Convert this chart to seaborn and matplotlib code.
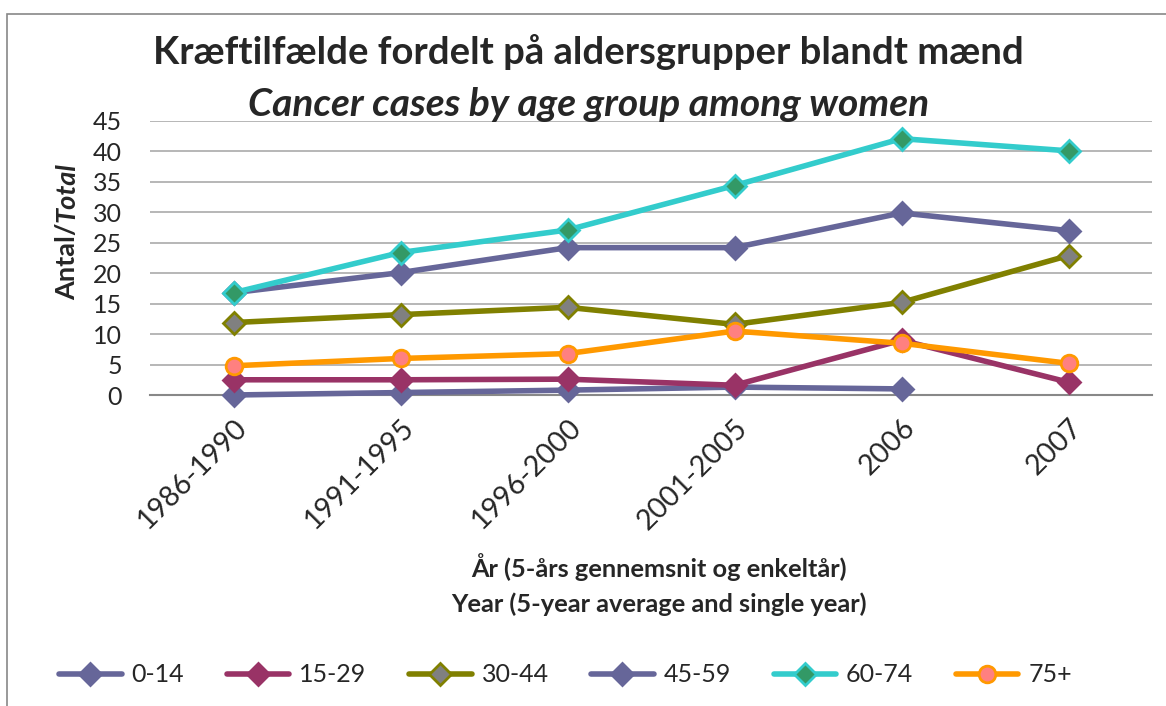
import numpy as np
import pandas as pd
import matplotlib.pyplot as plt
import seaborn as sns
from matplotlib.lines import Line2D
from matplotlib.patches import Rectangle

# Data
periods = ['1986-1990', '1991-1995', '1996-2000', '2001-2005', '2006', '2007']
age_groups = ['0-14', '15-29', '30-44', '45-59', '60-74', '75+']

cases_0_14 = [0.0, 0.4, 0.8, 1.3, 1.0, np.nan]
cases_15_29 = [2.5, 2.5, 2.6, 1.6, 9.0, 2.1]
cases_30_44 = [11.9, 13.2, 14.4, 11.6, 15.2, 22.9]
cases_45_59 = [16.8, 20.1, 24.2, 24.2, 29.9, 27.0]
cases_60_74 = [16.8, 23.4, 27.1, 34.4, 42.1, 40.1]
cases_75_plus = [4.8, 6.0, 6.8, 10.5, 8.5, 5.2]

series = [cases_0_14, cases_15_29, cases_30_44, cases_45_59, cases_60_74, cases_75_plus]

df = pd.DataFrame({
    'period': periods * len(age_groups),
    'x': list(range(len(periods))) * len(age_groups),
    'group': [g for g in age_groups for _ in periods],
    'value': [v for s in series for v in s],
})

# line colour, marker, marker face
styles = {
    '0-14': ('#666699', 'D', '#666699'),
    '15-29': ('#993366', 'D', '#993366'),
    '30-44': ('#808000', 'D', '#808080'),
    '45-59': ('#666699', 'D', '#666699'),
    '60-74': ('#33CCCC', 'D', '#339966'),
    '75+': ('#FF9900', 'o', '#FF8080'),
}

sns.set_style('white')
plt.rcParams['font.family'] = ['Lato', 'DejaVu Sans']

fig = plt.figure(figsize=(11.66, 7.06), dpi=100)
ax = fig.add_axes([150 / 1166, 1 - 395 / 706, 1002 / 1166, 274 / 706])

handles = []
for g in age_groups:
    color, marker, face = styles[g]
    sub = df[df['group'] == g].dropna()
    sns.lineplot(data=sub, x='x', y='value', ax=ax, color=color, linewidth=4,
                 marker=marker, markersize=11 if marker == 'D' else 12,
                 markerfacecolor=face, markeredgecolor=color, markeredgewidth=2,
                 clip_on=False, zorder=3)
    handles.append(Line2D([], [], color=color, linewidth=4, marker=marker,
                          markersize=11 if marker == 'D' else 12,
                          markerfacecolor=face, markeredgecolor=color,
                          markeredgewidth=2, label=g))

ax.set_xlim(-0.5, 5.5)
ax.set_ylim(0, 45)
ax.set_yticks(range(0, 50, 5))
ax.set_xticks(range(len(periods)))
ax.set_xticklabels(periods, rotation=45, ha='right', rotation_mode='anchor', fontsize=20.5)
ax.tick_params(axis='y', labelsize=18, length=0, pad=20)
ax.tick_params(axis='x', length=0, pad=14)
ax.yaxis.grid(True, color='#AAAAAA', linewidth=1.2)
ax.set_axisbelow(True)
for side in ['top', 'right', 'left']:
    ax.spines[side].set_visible(False)
ax.spines['bottom'].set_color('#888888')
ax.spines['bottom'].set_linewidth(1.5)
ax.set_xlabel('')
ax.set_ylabel('')

# y label: "Antal/" upright, "Total" italic, stacked along the rotated baseline
fig.canvas.draw()
part1 = fig.text(67 / 1166, 1 - 300 / 706, 'Antal/', rotation=90, fontsize=19.5,
                 fontweight='bold', ha='center', va='bottom')
bb = part1.get_window_extent(fig.canvas.get_renderer())
fig.text(67 / 1166, bb.y1 / fig.bbox.height, 'Total', rotation=90, fontsize=19.5,
         fontweight='bold', style='italic', ha='center', va='bottom')

# titles
fig.text(0.505, 1 - 52 / 706, 'Kræftilfælde fordelt på aldersgrupper blandt mænd',
         fontsize=27.5, fontweight='bold', ha='center', va='center')
fig.text(0.505, 1 - 104 / 706, 'Cancer cases by age group among women',
         fontsize=28, fontweight='bold', style='italic', ha='center', va='center')

# x labels
fig.text(0.565, 1 - 567 / 706, 'År (5-års gennemsnit og enkeltår)',
         fontsize=18.3, fontweight='bold', ha='center', va='center')
fig.text(0.565, 1 - 604 / 706, 'Year (5-year average and single year)',
         fontsize=18.3, fontweight='bold', ha='center', va='center')

fig.legend(handles=handles, loc='center', bbox_to_anchor=(0.485, 1 - 675 / 706), ncol=6,
           frameon=False, fontsize=18, handlelength=2.5, columnspacing=1.7,
           handletextpad=0.4)

fig.patches.append(Rectangle((7 / 1166, -0.1), 1.2, 1 - 13.5 / 706 + 0.1,
                             transform=fig.transFigure, fill=False,
                             edgecolor='#888888', linewidth=1.2))

fig.savefig('out.png', dpi=100)
